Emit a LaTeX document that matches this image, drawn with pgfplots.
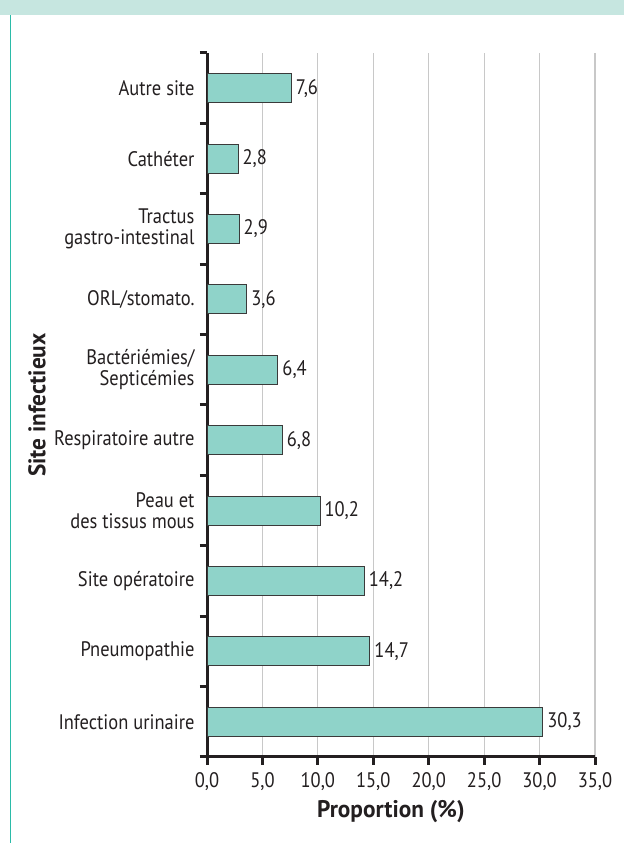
\documentclass[border=0pt]{standalone}
\usepackage{fontspec}
\setmainfont{PT Sans}[FakeStretch=0.88]
\newfontfamily\labfont{PT Sans}[FakeStretch=0.97]
\usepackage{pgfplots}
\pgfplotsset{compat=1.18}
\definecolor{barfill}{HTML}{8FD3C9}
\definecolor{baredge}{HTML}{3A3A3A}
\definecolor{band}{HTML}{C6E6E0}
\definecolor{leftline}{HTML}{2BBBA8}
\definecolor{txt}{HTML}{231F20}
\definecolor{gridc}{HTML}{C8C8C8}
\begin{document}
\begin{tikzpicture}[x=1pt,y=1pt]
\path[use as bounding box] (0,0) rectangle (624,843);
\fill[white] (0,0) rectangle (624,843);
\fill[band] (0,828) rectangle (624,843);
\draw[leftline, line width=1.5pt] (10.5,0) -- (10.5,828);
\begin{axis}[
  at={(207pt,86pt)}, anchor=south west,
  scale only axis, width=388pt, height=704pt,
  xbar, bar width=29pt,
  xmin=0, xmax=35, ymin=-0.5, ymax=9.5,
  axis x line*=bottom, axis y line*=left,
  axis line style={line width=3pt, draw=txt, -},
  xtick={0,5,...,35},
  xticklabels={{0,0},{5,0},{10,0},{15,0},{20,0},{25,0},{30,0},{35,0}},
  ytick={0,...,9},
  yticklabels={Infection urinaire, Pneumopathie, Site opératoire, {Peau et\\des tissus mous}, Respiratoire autre, {Bactériémies/\\Septicémies}, ORL/stomato., {Tractus\\gastro-intestinal}, Cathéter, Autre site},
  tick align=outside,
  major tick length=8pt,
  xtick style={line width=3pt, draw=txt},
  ytick style={draw=none},
  extra y ticks={-0.5,0.5,...,9.5},
  extra y tick labels={},
  extra y tick style={ytick style={draw=txt, line width=3pt}, major tick length=7pt, grid=none},
  xmajorgrids, grid style={draw=gridc, line width=1.2pt},
  ticklabel style={font=\fontsize{21}{21}\selectfont, text=txt},
  yticklabel style={align=right, xshift=-1pt},
  xticklabel style={yshift=-4pt},
  xlabel={Proportion (\%)},
  ylabel={Site infectieux},
  every axis x label/.style={at={(axis description cs:0.474,-0.078)}, anchor=center, font=\labfont\bfseries\fontsize{24}{26}\selectfont, text=txt},
  every axis y label/.style={at={(axis description cs:-0.438,0.5)}, rotate=90, anchor=center, font=\labfont\bfseries\fontsize{24}{26}\selectfont, text=txt},
  point meta=x,
  nodes near coords={\pgfmathprintnumber[fixed,fixed zerofill,precision=1,use comma,assume math mode=true]{\pgfplotspointmeta}},
  nodes near coords style={font=\fontsize{21}{22}\selectfont, text=txt, anchor=west, inner sep=4pt},
  clip=false,
]
\addplot[fill=barfill, draw=baredge, line width=1pt] coordinates {
  (30.3,0) (14.7,1) (14.2,2) (10.2,3) (6.8,4) (6.4,5) (3.6,6) (2.9,7) (2.8,8) (7.6,9)
};
\end{axis}
\end{tikzpicture}
\end{document}
